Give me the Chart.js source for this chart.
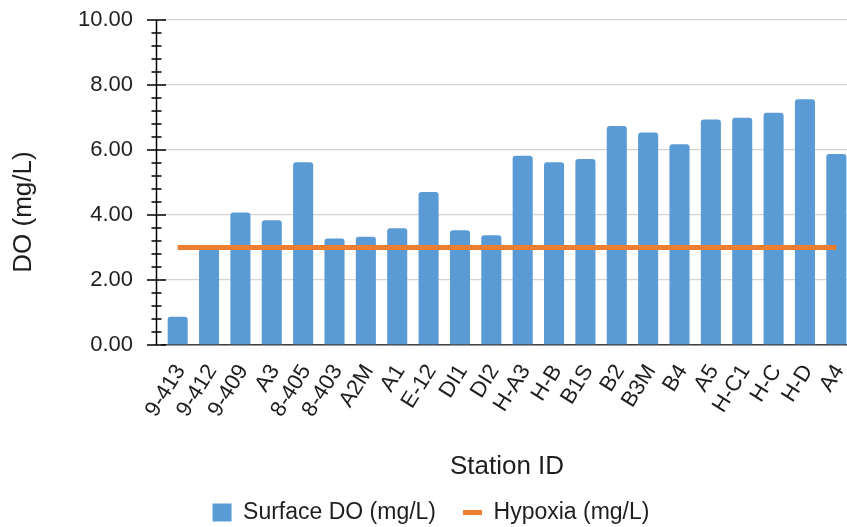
<!DOCTYPE html>
<html>
<head>
<meta charset="utf-8">
<script src="https://cdn.jsdelivr.net/npm/chart.js@4.4.1/dist/chart.umd.min.js"></script>
<style>
  html, body { margin: 0; padding: 0; background: #fff; overflow: hidden; }
  #wrap { width: 852px; height: 527px; position: relative; }
</style>
</head>
<body>
<div id="wrap"><canvas id="c"></canvas></div>
<script>
const categories = ['9-413','9-412','9-409','A3','8-405','8-403','A2M','A1','E-12','DI1','DI2','H-A3','H-B','B1S','B2','B3M','B4','A5','H-C1','H-C','H-D','A4'];
const surfaceDO = [0.87, 2.96, 4.08, 3.84, 5.62, 3.28, 3.33, 3.59, 4.71, 3.53, 3.38, 5.82, 5.62, 5.72, 6.74, 6.54, 6.18, 6.94, 6.99, 7.15, 7.56, 5.88];
const hypoxia = [3.00, 3.00, 3.00, 3.00, 3.00, 3.00, 3.00, 3.00, 3.00, 3.00, 3.00, 3.00, 3.00, 3.00, 3.00, 3.00, 3.00, 3.00, 3.00, 3.00, 3.00, 3.00];
const yMin = 0, yMax = 10, yMajorStep = 2, yMinorStep = 0.4;
const seriesNames = ['Surface DO (mg/L)', 'Hypoxia (mg/L)'];
const xTitle = 'Station ID';
const yTitle = 'DO (mg/L)';

const BLUE = '#5B9BD5', ORANGE = '#ED7D31', TXT = '#1e1e1e';
const FONT = "'Liberation Sans', Arial, sans-serif";

const axisPlugin = {
  id: 'axisTicks',
  afterDraw(chart) {
    const ys = chart.scales.y, ctx = chart.ctx;
    const ax = chart.chartArea.left - 5.5;
    ctx.save();
    ctx.strokeStyle = '#000';
    ctx.lineWidth = 1.5;
    ctx.beginPath();
    ctx.moveTo(ax, ys.getPixelForValue(yMax));
    ctx.lineTo(ax, ys.getPixelForValue(yMin));
    ctx.stroke();
    const n = Math.round((yMax - yMin) / yMinorStep);
    const per = Math.round(yMajorStep / yMinorStep);
    ctx.beginPath();
    for (let i = 0; i <= n; i++) {
      const py = ys.getPixelForValue(yMin + i * yMinorStep);
      const len = (i % per === 0) ? 9.5 : 5;
      ctx.moveTo(ax - len, py);
      ctx.lineTo(ax + len, py);
    }
    ctx.stroke();
    // y axis title (Excel places it slightly below the plot's middle)
    ctx.fillStyle = TXT;
    ctx.font = "26px " + FONT;
    ctx.textAlign = 'center';
    ctx.textBaseline = 'middle';
    ctx.translate(24, 212);
    ctx.rotate(-Math.PI / 2);
    ctx.fillText(yTitle, 0, 0);
    ctx.restore();
  }
};

function noPad(scale) {
  scale.paddingTop = 0; scale.paddingBottom = 0;
  scale.paddingLeft = 0; scale.paddingRight = 0;
}

new Chart(document.getElementById('c'), {
  data: {
    labels: categories,
    datasets: [
      {
        type: 'line',
        label: seriesNames[1],
        data: hypoxia,
        borderColor: ORANGE,
        backgroundColor: ORANGE,
        borderWidth: 5,
        pointRadius: 0,
        pointHoverRadius: 0,
        fill: false,
        tension: 0,
        order: 0
      },
      {
        type: 'bar',
        label: seriesNames[0],
        data: surfaceDO,
        backgroundColor: BLUE,
        borderWidth: 0,
        borderRadius: { topLeft: 3, topRight: 3, bottomLeft: 0, bottomRight: 0 },
        borderSkipped: 'bottom',
        categoryPercentage: 1,
        barPercentage: 0.64,
        order: 1
      }
    ]
  },
  options: {
    responsive: true,
    maintainAspectRatio: false,
    animation: false,
    events: [],
    layout: { padding: { top: 20, bottom: -7, left: 10, right: 0 } },
    plugins: {
      tooltip: { enabled: false },
      legend: {
        position: 'bottom',
        labels: {
          usePointStyle: true,
          pointStyleWidth: 19,
          boxHeight: 18,
          boxWidth: 19,
          padding: 27,
          color: TXT,
          font: { family: FONT, size: 23 },
          generateLabels: () => [
            { text: seriesNames[0], fillStyle: BLUE, strokeStyle: BLUE, lineWidth: 0, pointStyle: 'rect', hidden: false, datasetIndex: 1, fontColor: TXT },
            { text: seriesNames[1], fillStyle: ORANGE, strokeStyle: ORANGE, lineWidth: 5, pointStyle: 'line', hidden: false, datasetIndex: 0, fontColor: TXT }
          ]
        }
      }
    },
    scales: {
      x: {
        type: 'category',
        offset: true,
        grid: { display: false, drawTicks: false, tickLength: 0 },
        border: { display: true, color: '#404040', width: 1.5 },
        ticks: {
          autoSkip: false,
          maxRotation: 58,
          minRotation: 58,
          padding: 15,
          labelOffset: 3,
          color: TXT,
          font: { family: FONT, size: 22 }
        },
        title: {
          display: true,
          text: xTitle,
          color: TXT,
          font: { family: FONT, size: 26 },
          padding: { top: 0, bottom: -8 }
        },
        afterFit(scale) { scale.height = 129; noPad(scale); }
      },
      y: {
        type: 'linear',
        min: yMin,
        max: yMax,
        grid: { color: '#d4d4d4', lineWidth: 1.3, drawTicks: false, tickLength: 0 },
        border: { display: false },
        ticks: {
          stepSize: yMajorStep,
          padding: 29,
          color: TXT,
          font: { family: FONT, size: 22 },
          callback: (v) => Number(v).toFixed(2)
        },
        title: { display: false, text: yTitle },
        afterFit(scale) { scale.width = 152; noPad(scale); }
      }
    }
  },
  plugins: [axisPlugin]
});
</script>
</body>
</html>
